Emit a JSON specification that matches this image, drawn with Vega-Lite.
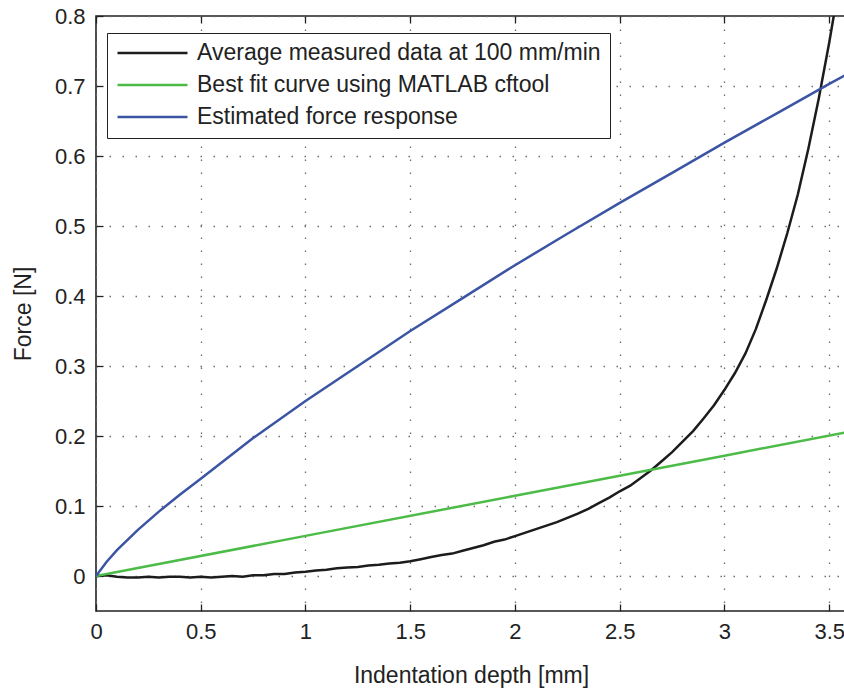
{
  "$schema": "https://vega.github.io/schema/vega-lite/v6.json",
  "autosize": {"type": "none"},
  "width": 750,
  "height": 595,
  "padding": {"left": 96, "top": 16, "right": 0, "bottom": 80},
  "background": "white",
  "config": {
    "view": {"stroke": "#222", "strokeWidth": 1.6},
    "font": "Liberation Sans",
    "axis": {"labelFont": "Liberation Sans", "titleFont": "Liberation Sans", "labelColor": "#222", "titleColor": "#222", "titleFontWeight": "normal"}
  },
  "datasets": {
    "curves": [
      {"x": 0, "y": 0, "series": "Average measured data at 100 mm/min"},
      {"x": 0.05, "y": 0.001, "series": "Average measured data at 100 mm/min"},
      {"x": 0.1, "y": -0.001, "series": "Average measured data at 100 mm/min"},
      {"x": 0.15, "y": -0.002, "series": "Average measured data at 100 mm/min"},
      {"x": 0.2, "y": -0.002, "series": "Average measured data at 100 mm/min"},
      {"x": 0.25, "y": -0.001, "series": "Average measured data at 100 mm/min"},
      {"x": 0.3, "y": -0.002, "series": "Average measured data at 100 mm/min"},
      {"x": 0.35, "y": -0.001, "series": "Average measured data at 100 mm/min"},
      {"x": 0.4, "y": -0.001, "series": "Average measured data at 100 mm/min"},
      {"x": 0.45, "y": -0.002, "series": "Average measured data at 100 mm/min"},
      {"x": 0.5, "y": -0.001, "series": "Average measured data at 100 mm/min"},
      {"x": 0.55, "y": -0.002, "series": "Average measured data at 100 mm/min"},
      {"x": 0.6, "y": -0.001, "series": "Average measured data at 100 mm/min"},
      {"x": 0.65, "y": 0.0, "series": "Average measured data at 100 mm/min"},
      {"x": 0.7, "y": -0.001, "series": "Average measured data at 100 mm/min"},
      {"x": 0.75, "y": 0.001, "series": "Average measured data at 100 mm/min"},
      {"x": 0.8, "y": 0.001, "series": "Average measured data at 100 mm/min"},
      {"x": 0.85, "y": 0.003, "series": "Average measured data at 100 mm/min"},
      {"x": 0.9, "y": 0.003, "series": "Average measured data at 100 mm/min"},
      {"x": 0.95, "y": 0.005, "series": "Average measured data at 100 mm/min"},
      {"x": 1.0, "y": 0.006, "series": "Average measured data at 100 mm/min"},
      {"x": 1.05, "y": 0.008, "series": "Average measured data at 100 mm/min"},
      {"x": 1.1, "y": 0.009, "series": "Average measured data at 100 mm/min"},
      {"x": 1.15, "y": 0.011, "series": "Average measured data at 100 mm/min"},
      {"x": 1.2, "y": 0.012, "series": "Average measured data at 100 mm/min"},
      {"x": 1.25, "y": 0.013, "series": "Average measured data at 100 mm/min"},
      {"x": 1.3, "y": 0.015, "series": "Average measured data at 100 mm/min"},
      {"x": 1.35, "y": 0.016, "series": "Average measured data at 100 mm/min"},
      {"x": 1.4, "y": 0.018, "series": "Average measured data at 100 mm/min"},
      {"x": 1.45, "y": 0.019, "series": "Average measured data at 100 mm/min"},
      {"x": 1.5, "y": 0.021, "series": "Average measured data at 100 mm/min"},
      {"x": 1.55, "y": 0.024, "series": "Average measured data at 100 mm/min"},
      {"x": 1.6, "y": 0.027, "series": "Average measured data at 100 mm/min"},
      {"x": 1.65, "y": 0.03, "series": "Average measured data at 100 mm/min"},
      {"x": 1.7, "y": 0.032, "series": "Average measured data at 100 mm/min"},
      {"x": 1.75, "y": 0.036, "series": "Average measured data at 100 mm/min"},
      {"x": 1.8, "y": 0.04, "series": "Average measured data at 100 mm/min"},
      {"x": 1.85, "y": 0.044, "series": "Average measured data at 100 mm/min"},
      {"x": 1.9, "y": 0.049, "series": "Average measured data at 100 mm/min"},
      {"x": 1.95, "y": 0.052, "series": "Average measured data at 100 mm/min"},
      {"x": 2.0, "y": 0.057, "series": "Average measured data at 100 mm/min"},
      {"x": 2.05, "y": 0.062, "series": "Average measured data at 100 mm/min"},
      {"x": 2.1, "y": 0.067, "series": "Average measured data at 100 mm/min"},
      {"x": 2.15, "y": 0.072, "series": "Average measured data at 100 mm/min"},
      {"x": 2.2, "y": 0.077, "series": "Average measured data at 100 mm/min"},
      {"x": 2.25, "y": 0.083, "series": "Average measured data at 100 mm/min"},
      {"x": 2.3, "y": 0.089, "series": "Average measured data at 100 mm/min"},
      {"x": 2.35, "y": 0.096, "series": "Average measured data at 100 mm/min"},
      {"x": 2.4, "y": 0.104, "series": "Average measured data at 100 mm/min"},
      {"x": 2.45, "y": 0.112, "series": "Average measured data at 100 mm/min"},
      {"x": 2.5, "y": 0.121, "series": "Average measured data at 100 mm/min"},
      {"x": 2.55, "y": 0.129, "series": "Average measured data at 100 mm/min"},
      {"x": 2.6, "y": 0.14, "series": "Average measured data at 100 mm/min"},
      {"x": 2.65, "y": 0.151, "series": "Average measured data at 100 mm/min"},
      {"x": 2.7, "y": 0.164, "series": "Average measured data at 100 mm/min"},
      {"x": 2.75, "y": 0.177, "series": "Average measured data at 100 mm/min"},
      {"x": 2.8, "y": 0.192, "series": "Average measured data at 100 mm/min"},
      {"x": 2.85, "y": 0.207, "series": "Average measured data at 100 mm/min"},
      {"x": 2.9, "y": 0.225, "series": "Average measured data at 100 mm/min"},
      {"x": 2.95, "y": 0.244, "series": "Average measured data at 100 mm/min"},
      {"x": 3.0, "y": 0.266, "series": "Average measured data at 100 mm/min"},
      {"x": 3.05, "y": 0.29, "series": "Average measured data at 100 mm/min"},
      {"x": 3.1, "y": 0.318, "series": "Average measured data at 100 mm/min"},
      {"x": 3.15, "y": 0.353, "series": "Average measured data at 100 mm/min"},
      {"x": 3.2, "y": 0.395, "series": "Average measured data at 100 mm/min"},
      {"x": 3.25, "y": 0.44, "series": "Average measured data at 100 mm/min"},
      {"x": 3.3, "y": 0.49, "series": "Average measured data at 100 mm/min"},
      {"x": 3.35, "y": 0.545, "series": "Average measured data at 100 mm/min"},
      {"x": 3.4, "y": 0.61, "series": "Average measured data at 100 mm/min"},
      {"x": 3.45, "y": 0.682, "series": "Average measured data at 100 mm/min"},
      {"x": 3.5, "y": 0.762, "series": "Average measured data at 100 mm/min"},
      {"x": 3.53, "y": 0.815, "series": "Average measured data at 100 mm/min"},
      {"x": 0, "y": 0, "series": "Best fit curve using MATLAB cftool"},
      {"x": 1.0, "y": 0.0573, "series": "Best fit curve using MATLAB cftool"},
      {"x": 2.0, "y": 0.1146, "series": "Best fit curve using MATLAB cftool"},
      {"x": 3.0, "y": 0.1719, "series": "Best fit curve using MATLAB cftool"},
      {"x": 3.58, "y": 0.2052, "series": "Best fit curve using MATLAB cftool"},
      {"x": 0, "y": 0, "series": "Estimated force response"},
      {"x": 0.05, "y": 0.02, "series": "Estimated force response"},
      {"x": 0.1, "y": 0.037, "series": "Estimated force response"},
      {"x": 0.2, "y": 0.066, "series": "Estimated force response"},
      {"x": 0.3, "y": 0.092, "series": "Estimated force response"},
      {"x": 0.4, "y": 0.116, "series": "Estimated force response"},
      {"x": 0.5, "y": 0.139, "series": "Estimated force response"},
      {"x": 0.75, "y": 0.197, "series": "Estimated force response"},
      {"x": 1.0, "y": 0.25, "series": "Estimated force response"},
      {"x": 1.25, "y": 0.3, "series": "Estimated force response"},
      {"x": 1.5, "y": 0.35, "series": "Estimated force response"},
      {"x": 1.75, "y": 0.397, "series": "Estimated force response"},
      {"x": 2.0, "y": 0.444, "series": "Estimated force response"},
      {"x": 2.25, "y": 0.489, "series": "Estimated force response"},
      {"x": 2.5, "y": 0.533, "series": "Estimated force response"},
      {"x": 2.75, "y": 0.576, "series": "Estimated force response"},
      {"x": 3.0, "y": 0.619, "series": "Estimated force response"},
      {"x": 3.25, "y": 0.661, "series": "Estimated force response"},
      {"x": 3.5, "y": 0.703, "series": "Estimated force response"},
      {"x": 3.58, "y": 0.716, "series": "Estimated force response"}
    ]
  },
  "data": {"name": "curves"},
  "resolve": {"axis": {"x": "independent"}},
  "layer": [
    {
      "mark": {"type": "line", "strokeWidth": 2.5, "clip": true},
      "encoding": {
        "x": {
          "field": "x", "type": "quantitative",
          "scale": {"domain": [0, 3.58], "nice": false, "zero": false},
          "axis": {
            "orient": "bottom", "values": [0, 0.5, 1, 1.5, 2, 2.5, 3, 3.5], "format": "~g",
            "title": "Indentation depth [mm]", "titleFontSize": 23, "titlePadding": 22,
            "labelFontSize": 22, "labelPadding": 17, "labelFlush": false,
            "tickSize": -7, "tickColor": "#222", "tickWidth": 1.3,
            "domain": false,
            "grid": true, "gridColor": "#6e6e6e", "gridDash": [1.5, 11.5], "gridWidth": 1.3
          }
        },
        "y": {
          "field": "y", "type": "quantitative",
          "scale": {"domain": [-0.05, 0.8], "nice": false, "zero": false},
          "axis": {
            "values": [0, 0.1, 0.2, 0.3, 0.4, 0.5, 0.6, 0.7, 0.8], "format": "~g",
            "title": "Force [N]", "titleFontSize": 23, "titlePadding": 19,
            "labelFontSize": 22, "labelPadding": 18, "labelFlush": false,
            "tickSize": -7, "tickColor": "#222", "tickWidth": 1.3,
            "domain": false,
            "grid": true, "gridColor": "#6e6e6e", "gridDash": [1.5, 11.5], "gridWidth": 1.3
          }
        },
        "color": {
          "field": "series", "type": "nominal",
          "scale": {
            "domain": ["Average measured data at 100 mm/min", "Best fit curve using MATLAB cftool", "Estimated force response"],
            "range": ["#1c1c1c", "#4cbb47", "#3b54a4"]
          },
          "legend": {
            "orient": "none", "legendX": 11, "legendY": 17, "title": null,
            "symbolType": "stroke", "symbolSize": 4900, "symbolStrokeWidth": 2.5,
            "labelFontSize": 23, "labelFont": "Liberation Sans", "labelColor": "#222",
            "labelOffset": 8, "labelLimit": 700, "rowPadding": 9, "clipHeight": 22,
            "strokeColor": "#222", "fillColor": "white", "padding": 9
          }
        }
      }
    },
    {
      "mark": {"type": "line", "strokeOpacity": 0, "clip": true},
      "encoding": {
        "x": {
          "field": "x", "type": "quantitative",
          "scale": {"domain": [0, 3.58], "nice": false, "zero": false},
          "axis": {
            "orient": "top", "values": [0, 0.5, 1, 1.5, 2, 2.5, 3, 3.5],
            "labels": false, "title": null, "domain": false, "grid": false,
            "tickSize": -7, "tickColor": "#222", "tickWidth": 1.3
          }
        },
        "y": {"field": "y", "type": "quantitative"},
        "detail": {"field": "series", "type": "nominal"}
      }
    }
  ]
}
